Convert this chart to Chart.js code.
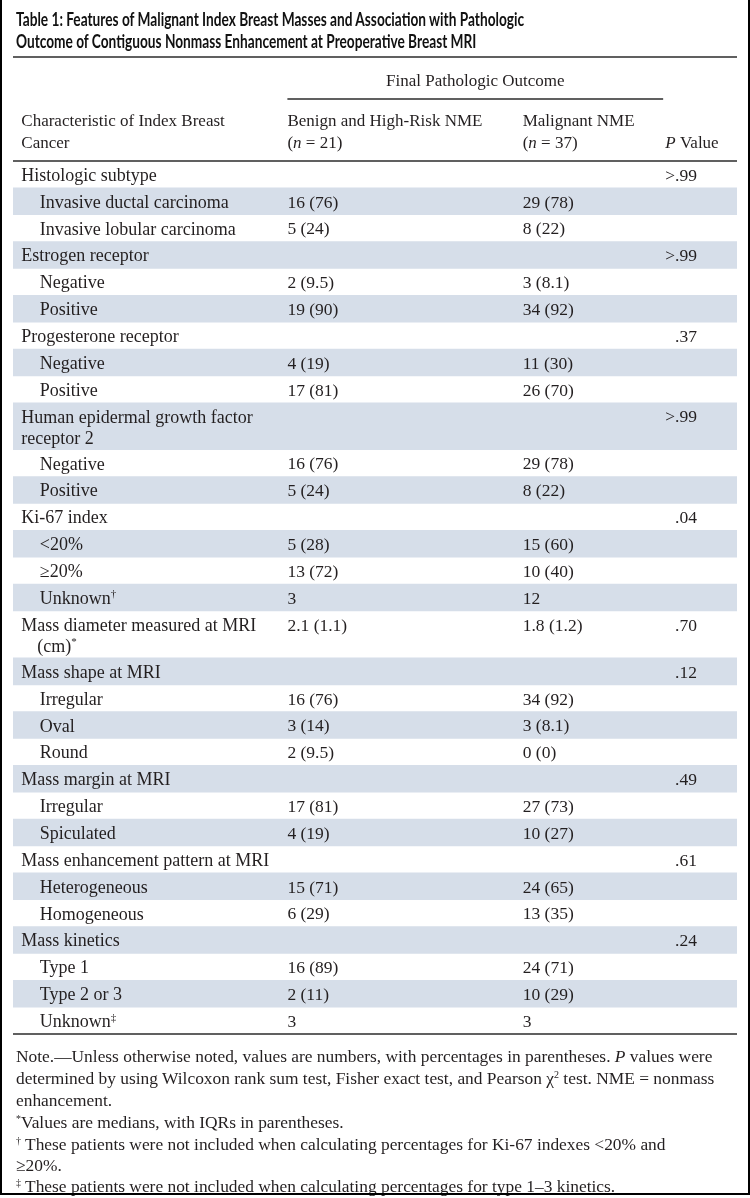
<!DOCTYPE html>
<html><head><meta charset="utf-8">
<script src="https://cdn.jsdelivr.net/npm/chart.js@4.4.1/dist/chart.umd.min.js"></script>
<style>
html,body{margin:0;padding:0;background:#fff;}
#page{position:relative;width:750px;height:1198px;overflow:hidden;background:#fff;}
#frame{position:absolute;left:0;top:-4px;width:746px;height:1197px;border-left:2px solid #000;border-right:2px solid #000;border-bottom:2px solid #000;box-sizing:content-box;pointer-events:none;}
#c{position:absolute;left:0;top:0;}
.title{position:absolute;left:16px;font-family:Lato,"Liberation Sans",sans-serif;font-weight:700;font-size:18px;line-height:22px;color:#111;white-space:nowrap;transform-origin:0 50%;}
.note{position:absolute;left:16px;font-family:"Liberation Serif","Times New Roman",serif;font-size:16px;line-height:22px;color:#231f20;white-space:nowrap;}
.note sup{font-size:10px;line-height:0;vertical-align:6px;}
</style>
</head><body>
<div id="page">
<canvas id="c" width="750" height="1198"></canvas>
<div class="title" id="t1" style="top:8px">Table 1: Features of Malignant Index Breast Masses and Association with Pathologic</div>
<div class="title" id="t2" style="top:30px">Outcome of Contiguous Nonmass Enhancement at Preoperative Breast MRI</div>
<div class="note" id="n1" style="top:1045px">Note.—Unless otherwise noted, values are numbers, with percentages in parentheses. <i>P</i> values were</div>
<div class="note" style="top:1067px">determined by using Wilcoxon rank sum test, Fisher exact test, and Pearson χ<sup>2</sup> test. NME = nonmass</div>
<div class="note" style="top:1089px">enhancement.</div>
<div class="note" style="top:1111px"><sup>*</sup>Values are medians, with IQRs in parentheses.</div>
<div class="note" style="top:1133px"><sup>†</sup> These patients were not included when calculating percentages for Ki-67 indexes &lt;20% and</div>
<div class="note" style="top:1154px">≥20%.</div>
<div class="note" style="top:1175px"><sup>‡</sup> These patients were not included when calculating percentages for type 1–3 kinetics.</div>
<div id="frame"></div>
</div>
<script>
// ---------------- DATA ----------------
const headerGroup = "Final Pathologic Outcome";
const headerLabels = ["Characteristic of Index Breast|Cancer", "Benign and High-Risk NME|(n = 21)", "Malignant NME|(n = 37)", "P Value"];
const characteristics = [
 "Histologic subtype","Invasive ductal carcinoma","Invasive lobular carcinoma",
 "Estrogen receptor","Negative","Positive",
 "Progesterone receptor","Negative","Positive",
 "Human epidermal growth factor|receptor 2","Negative","Positive",
 "Ki-67 index","<20%","≥20%","Unknown^†",
 "Mass diameter measured at MRI|(cm)^*",
 "Mass shape at MRI","Irregular","Oval","Round",
 "Mass margin at MRI","Irregular","Spiculated",
 "Mass enhancement pattern at MRI","Heterogeneous","Homogeneous",
 "Mass kinetics","Type 1","Type 2 or 3","Unknown^‡"
];
const indentLevel = [0,1,1, 0,1,1, 0,1,1, 0,1,1, 0,1,1,1, 0, 0,1,1,1, 0,1,1, 0,1,1, 0,1,1,1];
const benignNME = ["","16 (76)","5 (24)", "","2 (9.5)","19 (90)", "","4 (19)","17 (81)", "","16 (76)","5 (24)",
 "","5 (28)","13 (72)","3", "2.1 (1.1)", "","16 (76)","3 (14)","2 (9.5)", "","17 (81)","4 (19)", "","15 (71)","6 (29)", "","16 (89)","2 (11)","3"];
const malignantNME = ["","29 (78)","8 (22)", "","3 (8.1)","34 (92)", "","11 (30)","26 (70)", "","29 (78)","8 (22)",
 "","15 (60)","10 (40)","12", "1.8 (1.2)", "","34 (92)","3 (8.1)","0 (0)", "","27 (73)","10 (27)", "","24 (65)","13 (35)", "","24 (71)","10 (29)","3"];
const pValues = [">.99","","", ">.99","","", ".37","","", ">.99","","", ".04","","","", ".70", ".12","","","", ".49","","", ".61","","", ".24","","",""];

// ---------------- LAYOUT ----------------
const FONT = '"Liberation Serif","Times New Roman",serif';
const LABEL = 18, VALUE = 17.5, HEAD = 17;
const INK = '#231f20';
const SHADE = '#d6dee9';
const COL = {label:0.0115, indent:0.037, benign:0.379, malignant:0.704, pDot:0.9145, groupEnd:0.898, pHead:0.901};
const HANG = {16: 16};
const DOUBLE = 1.75;

const rowStart = [], rowEnd = [];
let acc = 0;
characteristics.forEach(c=>{ rowStart.push(acc); acc += c.includes('|') ? DOUBLE : 1; rowEnd.push(acc); });
const TOTAL = acc;
const shadeSets = [];
characteristics.forEach((c,i)=>{ if(i%2===1) shadeSets.push({data:[[rowStart[i],rowEnd[i]]],backgroundColor:SHADE,borderWidth:0,grouped:false,barPercentage:1,categoryPercentage:1}); });

function fontFor(s,size){
  if(s==='i') return `italic ${size}px ${FONT}`;
  if(s==='sup') return `${Math.round(size*0.62)}px ${FONT}`;
  return `${size}px ${FONT}`;
}
function parse(str){
  const out=[]; const re=/(_[^_]+_)|(\^.)/g; let last=0,m;
  while((m=re.exec(str))){
    if(m.index>last) out.push({t:str.slice(last,m.index),s:''});
    if(m[1]) out.push({t:m[1].slice(1,-1),s:'i'}); else out.push({t:m[2].slice(1),s:'sup'});
    last=re.lastIndex;
  }
  if(last<str.length) out.push({t:str.slice(last),s:''});
  return out;
}
function drawRich(ctx,str,x,yc,size,align){
  const segs=parse(str); let w=0;
  segs.forEach(g=>{ctx.font=fontFor(g.s,size); g.w=ctx.measureText(g.t).width; w+=g.w;});
  let cx = align==='center'? x-w/2 : x;
  const base = yc + size*0.33;
  segs.forEach(g=>{ctx.font=fontFor(g.s,size); ctx.fillText(g.t,cx,g.s==='sup'? base-size*0.36 : base); cx+=g.w;});
}
function hline(ctx,x1,x2,y,w){ctx.save();ctx.strokeStyle='#2b2b2b';ctx.lineWidth=w||1.6;ctx.beginPath();ctx.moveTo(x1,y);ctx.lineTo(x2,y);ctx.stroke();ctx.restore();}

const tablePlugin = {
  id:'tableText',
  afterDatasetsDraw(chart){
    const ctx=chart.ctx, ys=chart.scales.y, ca=chart.chartArea;
    const X = f => ca.left + f*(ca.right-ca.left);
    const unit = Math.abs(ys.getPixelForValue(1)-ys.getPixelForValue(0));
    ctx.save();
    ctx.fillStyle=INK; ctx.textAlign='left'; ctx.textBaseline='alphabetic';
    hline(ctx,ca.left,ca.right,57);
    hline(ctx,X(COL.benign),X(COL.groupEnd),99);
    hline(ctx,ca.left,ca.right,ca.top);
    hline(ctx,ca.left,ca.right,ca.bottom);
    drawRich(ctx,headerGroup,(X(COL.benign)+X(COL.groupEnd))/2,80,HEAD,'center');
    const hl = headerLabels.map(h=>h.replace(/\(n = /,'(_n_ = ').replace(/^P /,'_P_ '));
    const hx=[X(COL.label),X(COL.benign),X(COL.malignant),X(COL.pHead)];
    hl.forEach((h,j)=>{
      const lines=h.split('|');
      if(lines.length===1) drawRich(ctx,lines[0],hx[j],142,HEAD,'left');
      else lines.forEach((ln,k)=>drawRich(ctx,ln,hx[j],120+22*k,HEAD,'left'));
    });
    characteristics.forEach((c,i)=>{
      const y1 = ys.getPixelForValue(rowStart[i]) + unit/2 + 0.5;
      const lines=c.split('|');
      const lx = X(indentLevel[i]?COL.indent:COL.label);
      lines.forEach((ln,k)=>drawRich(ctx,ln,lx+(k>0&&HANG[i]?HANG[i]:0),y1+k*21,LABEL,'left'));
      if(benignNME[i]) drawRich(ctx,benignNME[i],X(COL.benign),y1,VALUE,'left');
      if(malignantNME[i]) drawRich(ctx,malignantNME[i],X(COL.malignant),y1,VALUE,'left');
      if(pValues[i]){
        const p=pValues[i], dot=p.indexOf('.');
        ctx.font=fontFor('',VALUE);
        const pre=ctx.measureText(p.slice(0,dot)).width;
        drawRich(ctx,p,X(COL.pDot)-pre,y1,VALUE,'left');
      }
    });
    ctx.restore();
  }
};

new Chart(document.getElementById('c').getContext('2d'),{
  type:'bar',
  data:{labels:['table'],datasets:shadeSets},
  options:{
    responsive:false,animation:false,devicePixelRatio:1,
    layout:{padding:{left:13,right:13,top:161,bottom:164}},
    plugins:{legend:{display:false},tooltip:{enabled:false}},
    scales:{x:{type:'category',display:false,offset:true},y:{type:'linear',reverse:true,min:0,max:TOTAL,display:false}}
  },
  plugins:[tablePlugin]
});

(function(){
  const t1=document.getElementById('t1'), t2=document.getElementById('t2');
  const w=t1.getBoundingClientRect().width;
  const sx=508/w;
  t1.style.transform=t2.style.transform=`scaleX(${sx})`;
  const n1=document.getElementById('n1');
  const nw=n1.getBoundingClientRect().width;
  const fs=16*697/nw;
  document.querySelectorAll('.note').forEach(el=>el.style.fontSize=fs+'px');
})();
</script>
</body></html>
